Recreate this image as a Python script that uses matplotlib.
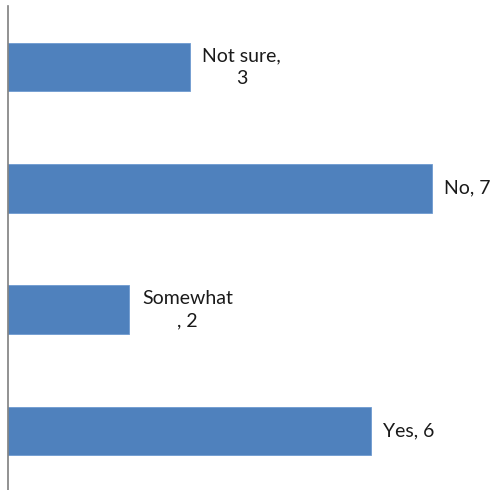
import matplotlib.pyplot as plt

# Survey answers (bottom to top as drawn)
categories = ["Yes", "Somewhat", "No", "Not sure"]
counts = [6, 2, 7, 3]
label_texts = ["Yes, 6", "Somewhat\n, 2", "No, 7", "Not sure,\n3"]

plt.rcParams['font.family'] = ['Lato', 'DejaVu Sans']

fig = plt.figure(figsize=(4.95, 4.9), dpi=100)
ax = fig.add_axes([8 / 495, 1 - 491.5 / 490, 484 / 495, 485 / 490])

ypos = list(range(len(categories)))
ax.barh(ypos, counts, height=0.4, color="#4F81BD", edgecolor="#6F9AD0", linewidth=0.6)

for y, v, txt in zip(ypos, counts, label_texts):
    if "\n" in txt:
        # wrapped labels are centred as a block
        ax.annotate(txt, (v, y), xytext=(13, 0), textcoords="offset pixels",
                    ha="left", va="center", multialignment="center",
                    fontsize=14, color="#1a1a1a", linespacing=1.35)
    else:
        ax.annotate(txt, (v, y), xytext=(12, 0), textcoords="offset pixels",
                    ha="left", va="center", fontsize=14, color="#1a1a1a")

ax.set_xlim(0, 8)
ax.set_ylim(-0.5, 3.5)
ax.set_xticks([])
ax.set_yticks([])
for s in ["top", "right"]:
    ax.spines[s].set_visible(False)
ax.spines["left"].set_color("#7f7f7f")
ax.spines["left"].set_linewidth(1.2)
ax.spines["bottom"].set_color("#d9d9d9")
ax.spines["bottom"].set_linewidth(0.8)

fig.savefig("out.png", dpi=100)
